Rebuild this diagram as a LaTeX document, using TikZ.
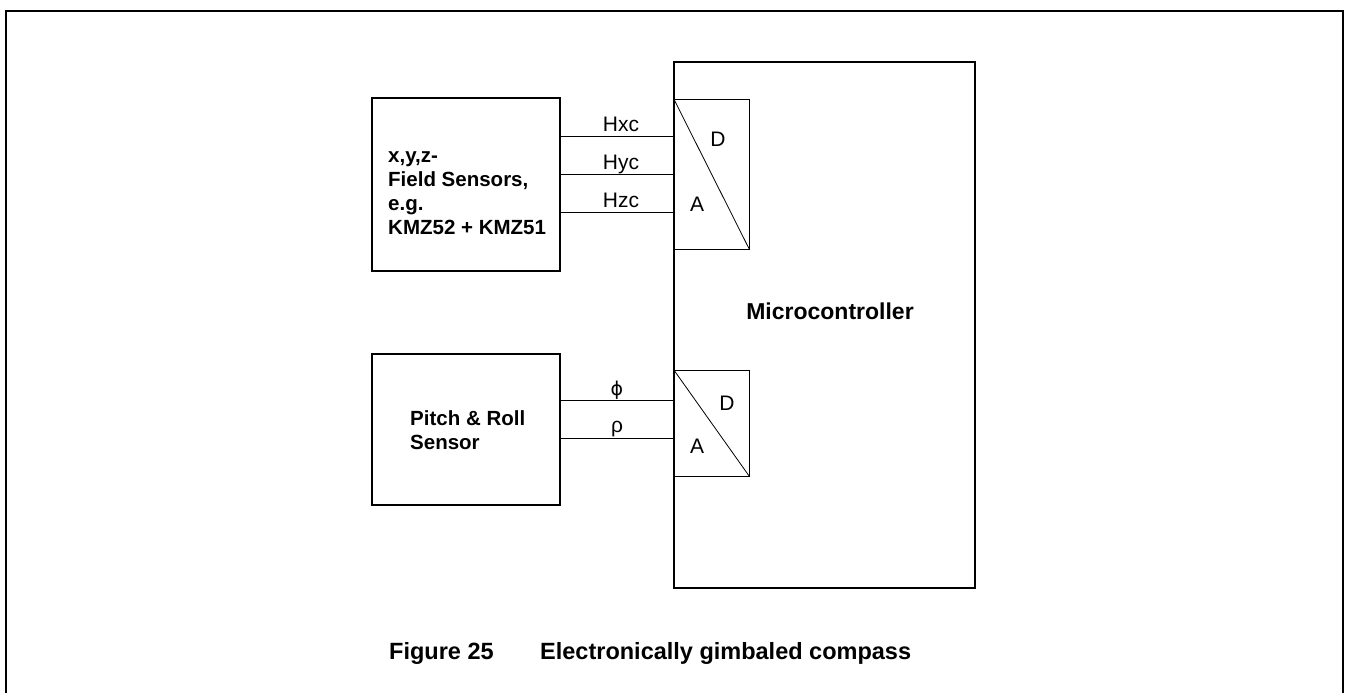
\documentclass[tikz,border=0pt]{standalone}
\usepackage{fontspec}
\setmainfont{Liberation Sans}
\newfontfamily\symfam{DejaVu Sans}
\begin{document}
\begin{tikzpicture}[x=1pt,y=-1pt,
  thickbox/.style={draw,line width=1.6pt,inner sep=0pt},
  adcbox/.style={draw,line width=0.8pt,inner sep=0pt,minimum width=75pt},
  wire/.style={line width=0.8pt},
  wlabel/.style={font=\fontsize{21}{24}\selectfont,inner sep=0pt,anchor=base},
  boldtext/.style={font=\fontsize{20.5}{24}\selectfont\bfseries,inner sep=0pt,align=left},
  adctext/.style={font=\fontsize{21}{24}\selectfont,inner sep=0pt,anchor=base},
  captext/.style={inner sep=0pt,anchor=base west,font=\fontsize{23.5}{28}\selectfont\bfseries}]
\useasboundingbox (0,0) rectangle (1346,693);
% frame
\draw[line width=1.3pt] (6,693) -- (6,11) -- (1343,11) -- (1343,693);
% boxes
\node[thickbox,minimum width=188pt,minimum height=173pt] (s1) at (466,184.5) {};
\node[thickbox,minimum width=188pt,minimum height=151pt] (s2) at (466,429.5) {};
\node[thickbox,minimum width=301pt,minimum height=526pt] (mcu) at (824.5,325) {};
\node[adcbox,minimum height=150pt] (adc1) at (711.5,174) {};
\node[adcbox,minimum height=106pt] (adc2) at (711.5,423) {};
\draw[wire] (adc1.north west) -- (adc1.south east);
\draw[wire] (adc2.north west) -- (adc2.south east);
% ADC letters
\node[adctext] (d1) at (718,146) {D};
\node[adctext] (a1) at (697,211) {A};
\node[adctext] (d2) at (727,410) {D};
\node[adctext] (a2) at (697,453) {A};
% texts
\node[boldtext,anchor=west] (s1t) at (388,193) {x,y,z-\\Field Sensors,\\e.g.\\KMZ52 + KMZ51};
\node[boldtext,anchor=west] (s2t) at (410,430) {Pitch \& Roll\\Sensor};
\node[font=\fontsize{23}{28}\selectfont\bfseries,inner sep=0pt,anchor=base] (mct) at (830,319) {Microcontroller};
% wires
\draw[wire] (s1.east |- 0,136) -- (mcu.west |- 0,136);
\draw[wire] (s1.east |- 0,174) -- (mcu.west |- 0,174);
\draw[wire] (s1.east |- 0,212) -- (mcu.west |- 0,212);
\draw[wire] (s2.east |- 0,400) -- (mcu.west |- 0,400);
\draw[wire] (s2.east |- 0,438) -- (mcu.west |- 0,438);
\node[wlabel] (hx) at (621,131) {Hxc};
\node[wlabel] (hy) at (621,169) {Hyc};
\node[wlabel] (hz) at (621,207) {Hzc};
\node[wlabel,font=\fontsize{19}{22}\selectfont\symfam] (phi) at (617,395) {ϕ};
\node[wlabel] (rho) at (617,432) {ρ};
% caption
\node[captext] (fig) at (389,659) {Figure 25};
\node[captext] (cap) at (540,659) {Electronically gimbaled compass};
\end{tikzpicture}
\end{document}
